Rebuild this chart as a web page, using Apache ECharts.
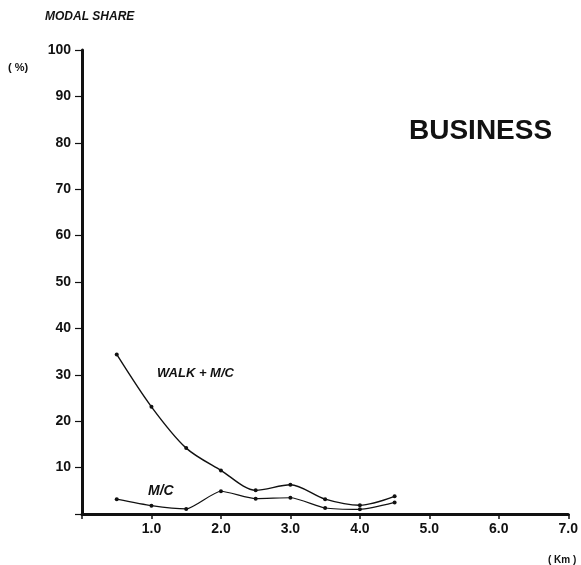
<!DOCTYPE html>
<html>
<head>
<meta charset="utf-8">
<script src="https://cdn.jsdelivr.net/npm/echarts@6/dist/echarts.min.js"></script>
<style>
  html, body { margin: 0; padding: 0; background: #fff; }
  #chart { width: 581px; height: 565px; }
</style>
</head>
<body>
<div id="chart"></div>
<script>
// distance (km) at which each share was measured
const distances = [0.5, 1.0, 1.5, 2.0, 2.5, 3.0, 3.5, 4.0, 4.5]
// modal share (%)
const walkMc = [34.4, 23.1, 14.2, 9.4, 5.1, 6.3, 3.2, 1.9, 3.8]
const mc = [3.2, 1.8, 1.1, 4.9, 3.3, 3.5, 1.3, 1.0, 2.5]
const xTicks = ['1.0', '2.0', '3.0', '4.0', '5.0', '6.0', '7.0']
const yTicks = ['10', '20', '30', '40', '50', '60', '70', '80', '90', '100']

const font = '"Liberation Sans", Arial, sans-serif'
const ink = '#111'

const chart = echarts.init(document.getElementById('chart'))

const toPairs = (xs, ys) => xs.map((x, i) => [x, ys[i]])

chart.setOption({
  animation: false,
  grid: { left: 82, right: 11, top: 50, bottom: 51 },
  xAxis: {
    type: 'value',
    min: 0,
    max: 7,
    interval: 1,
    splitLine: { show: false },
    axisLine: { lineStyle: { color: ink, width: 3 } },
    axisTick: { length: 5, lineStyle: { color: ink, width: 1.5 } },
    axisLabel: {
      color: ink, fontFamily: font, fontWeight: 'bold', fontSize: 14, margin: 8,
      formatter: v => (v === 0 ? '' : xTicks[v - 1])
    }
  },
  yAxis: {
    type: 'value',
    min: 0,
    max: 100,
    interval: 10,
    splitLine: { show: false },
    axisLine: { lineStyle: { color: ink, width: 3 } },
    axisTick: { length: 7, lineStyle: { color: ink, width: 1.2 } },
    axisLabel: {
      color: ink, fontFamily: font, fontWeight: 'bold', fontSize: 14, margin: 11,
      padding: [0, 0, 10, 0],
      formatter: v => (v === 0 ? '' : yTicks[v / 10 - 1])
    }
  },
  series: [
    {
      name: 'WALK + M/C',
      type: 'line',
      data: toPairs(distances, walkMc),
      smooth: 0.3,
      symbol: 'circle',
      symbolSize: 4,
      itemStyle: { color: ink },
      lineStyle: { color: ink, width: 1.4 }
    },
    {
      name: 'M/C',
      type: 'line',
      data: toPairs(distances, mc),
      smooth: 0.2,
      symbol: 'circle',
      symbolSize: 4,
      itemStyle: { color: ink },
      lineStyle: { color: ink, width: 1.2 }
    }
  ],
  graphic: [
    { type: 'text', left: 45, top: 11, style: { text: 'MODAL SHARE', fill: ink, font: 'italic bold 12px ' + font } },
    { type: 'text', left: 8, top: 62, style: { text: '( %)', fill: ink, font: 'bold 11px ' + font } },
    { type: 'text', left: 409, top: 117, style: { text: 'BUSINESS', fill: ink, font: 'bold 28px ' + font } },
    { type: 'text', left: 157, top: 367, style: { text: 'WALK + M/C', fill: ink, font: 'italic bold 13px ' + font } },
    { type: 'text', left: 148, top: 484, style: { text: 'M/C', fill: ink, font: 'italic bold 14px ' + font } },
    { type: 'text', left: 548, top: 555, style: { text: '( Km )', fill: ink, font: 'bold 10px ' + font } }
  ]
})
</script>
</body>
</html>
